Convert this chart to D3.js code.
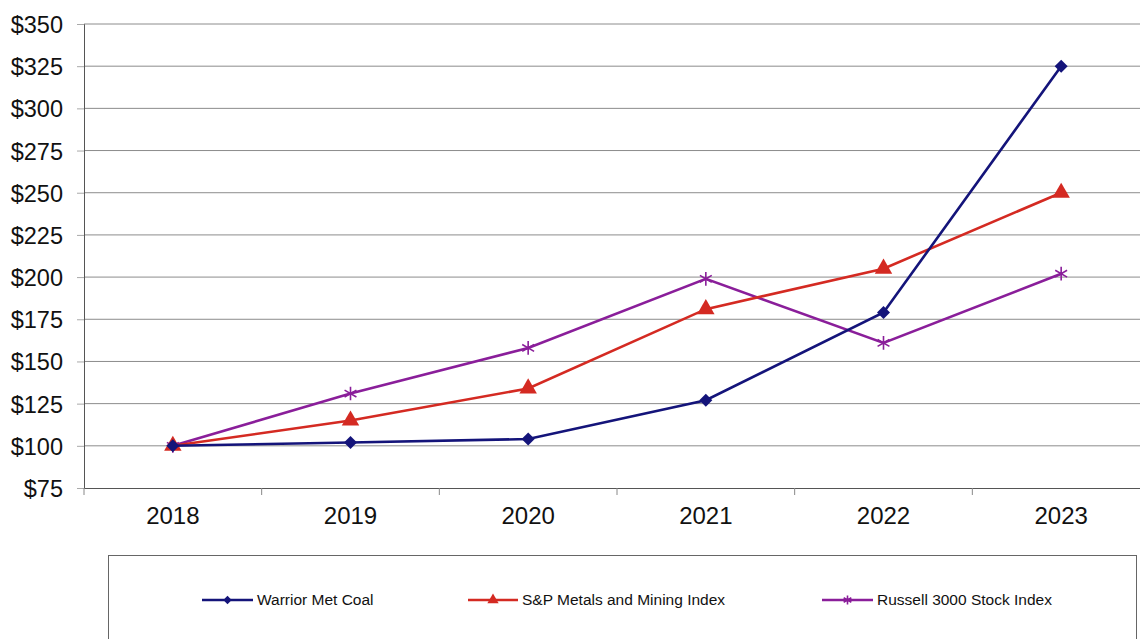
<!DOCTYPE html>
<html>
<head>
<meta charset="utf-8">
<script src="https://cdn.jsdelivr.net/npm/d3@7"></script>
<style>
  body { margin: 0; background: #fff; }
  svg { font-family: "Liberation Sans", Arial, sans-serif; }
</style>
</head>
<body>
<svg id="chart" width="1140" height="639"></svg>
<script>
// data
const years = ["2018", "2019", "2020", "2021", "2022", "2023"];
const warrior = [100, 102, 104, 127, 179, 325];
const spMetals = [100, 115, 134, 181, 205, 250];
const russell = [100, 131, 158, 199, 161, 202];
const yTicks = [75, 100, 125, 150, 175, 200, 225, 250, 275, 300, 325, 350];

const series = [
  { name: "Warrior Met Coal", values: warrior, color: "#14147a", shape: "diamond" },
  { name: "S&P Metals and Mining Index", values: spMetals, color: "#d42a22", shape: "triangle" },
  { name: "Russell 3000 Stock Index", values: russell, color: "#8a1e9a", shape: "star" }
];

const svg = d3.select("#chart");
const margin = { left: 84, top: 24 };
const plotW = 1066, plotH = 464;

const x = d3.scaleBand().domain(years).range([margin.left, margin.left + plotW]);
const y = d3.scaleLinear().domain([75, 350]).range([margin.top + plotH, margin.top]);

// gridlines
svg.append("g")
  .selectAll("line")
  .data(yTicks.slice(1))
  .enter().append("line")
  .attr("x1", margin.left).attr("x2", 1140)
  .attr("y1", d => y(d)).attr("y2", d => y(d))
  .attr("stroke", "#8c8c8c").attr("stroke-width", 1);

// y axis
const yAxis = svg.append("g")
  .attr("transform", "translate(" + margin.left + ",0)")
  .call(d3.axisLeft(y).tickValues(yTicks).tickSize(7).tickPadding(14).tickFormat(d => "$" + d));
yAxis.select(".domain").attr("stroke", "#555");
yAxis.selectAll(".tick line").attr("stroke", "#aaa");
yAxis.selectAll("text").attr("font-size", 23.5).attr("fill", "#111").attr("dy", "0.36em");

// x axis
const xAxis = svg.append("g")
  .attr("transform", "translate(0," + (margin.top + plotH) + ")")
  .call(d3.axisBottom(x).tickSize(0).tickPadding(19));
xAxis.select(".domain").attr("stroke", "#555");
xAxis.selectAll("text").attr("font-size", 24).attr("fill", "#111");
svg.append("g")
  .selectAll("line")
  .data(years)
  .enter().append("line")
  .attr("x1", d => x(d)).attr("x2", d => x(d))
  .attr("y1", margin.top + plotH).attr("y2", margin.top + plotH + 7)
  .attr("stroke", "#888");

const line = d3.line()
  .x((d, i) => x(years[i]) + x.bandwidth() / 2)
  .y(d => y(d));

function drawMarker(g, shape, color, cx, cy, s) {
  if (shape === "diamond") {
    g.append("path")
      .attr("d", d3.symbol().type(d3.symbolDiamond2 || d3.symbolSquare).size(s * 9)())
      .attr("transform", "translate(" + cx + "," + cy + ")")
      .attr("fill", color);
  } else if (shape === "triangle") {
    g.append("path")
      .attr("d", d3.symbol().type(d3.symbolTriangle).size(s * 11)())
      .attr("transform", "translate(" + cx + "," + cy + ")")
      .attr("fill", color);
  } else {
    g.append("path")
      .attr("d", d3.symbol().type(d3.symbolAsterisk).size(s * 11)())
      .attr("transform", "translate(" + cx + "," + cy + ")")
      .attr("fill", "none").attr("stroke", color).attr("stroke-width", 1.6);
  }
}

// draw order: russell, s&p, warrior so navy stays on top
[series[2], series[1], series[0]].forEach(s => {
  const g = svg.append("g");
  g.append("path")
    .datum(s.values)
    .attr("d", line)
    .attr("fill", "none")
    .attr("stroke", s.color)
    .attr("stroke-width", 2.6);
  s.values.forEach((v, i) => {
    drawMarker(g, s.shape, s.color, x(years[i]) + x.bandwidth() / 2, y(v), 12);
  });
});

// legend
const lg = svg.append("g");
lg.append("rect")
  .attr("x", 108.5).attr("y", 555.5)
  .attr("width", 1028).attr("height", 100)
  .attr("fill", "#fff").attr("stroke", "#666").attr("stroke-width", 1);
const legendX = [202, 468, 822];
const legendLen = [51, 50, 51];
series.forEach((s, i) => {
  const ly = 600;
  lg.append("line")
    .attr("x1", legendX[i]).attr("x2", legendX[i] + legendLen[i])
    .attr("y1", ly).attr("y2", ly)
    .attr("stroke", s.color).attr("stroke-width", 2.6);
  drawMarker(lg, s.shape, s.color, legendX[i] + legendLen[i] / 2, ly, 5);
  lg.append("text")
    .attr("x", legendX[i] + legendLen[i] + 4)
    .attr("y", ly)
    .attr("dy", "0.35em")
    .attr("font-size", 15.5)
    .attr("fill", "#111")
    .text(s.name);
});
</script>
</body>
</html>
